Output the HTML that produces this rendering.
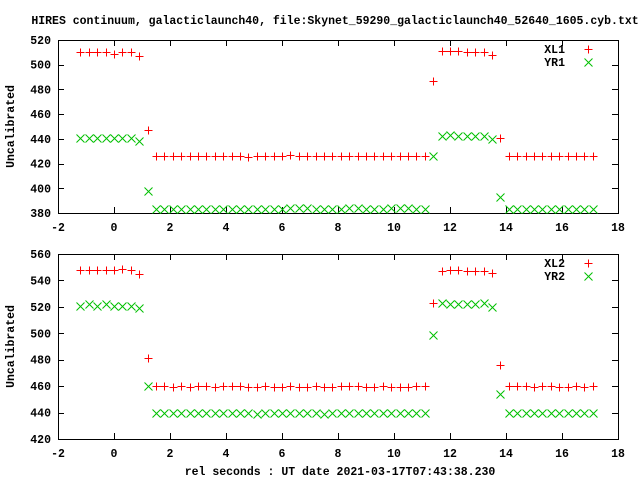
<!DOCTYPE html>
<html><head><meta charset="utf-8"><style>
body{margin:0;background:#fff}
svg{display:block}
text{font-family:"Liberation Mono",monospace;font-weight:bold;font-size:11.5px;fill:#000}
</style></head><body>
<svg id="chart" width="640" height="480" viewBox="0 0 640 480">
<text x="335" y="24" text-anchor="middle">HIRES continuum, galacticlaunch40, file:Skynet_59290_galacticlaunch40_52640_1605.cyb.txt</text>
<text x="340" y="475" text-anchor="middle">rel seconds : UT date 2021-03-17T07:43:38.230</text>
</svg>
<script>
const times=[-1.2,-0.9,-0.6,-0.3,0,0.3,0.6,0.9,1.2,1.5,1.8,2.1,2.4,2.7,3.0,3.3,3.6,3.9,4.2,4.5,4.8,5.1,5.4,5.7,6.0,6.3,6.6,6.9,7.2,7.5,7.8,8.1,8.4,8.7,9.0,9.3,9.6,9.9,10.2,10.5,10.8,11.1,11.4,11.7,12.0,12.3,12.6,12.9,13.2,13.5,13.8,14.1,14.4,14.7,15.0,15.3,15.6,15.9,16.2,16.5,16.8,17.1];
const xl1=[510,510,510,510,509,510,510,507,447,426,426,426,426,426,426,426,426,426,426,426,425,426,426,426,426,427,426,426,426,426,426,426,426,426,426,426,426,426,426,426,426,426,487,511,511,511,510,510,510,508,441,426,426,426,426,426,426,426,426,426,426,426];
const yr1=[441,441,441,441,441,441,441,438,398,383,383,383,383,383,383,383,383,383,383,383,383,383,383,383,383,384,384,384,383,383,383,383,384,384,383,383,383,384,384,384,383,383,426,442,443,442,442,442,442,440,393,383,383,383,383,383,383,383,383,383,383,383];
const xl2=[548,548,548,548,548,549,548,545,481,460,460,459,460,459,460,460,459,460,460,460,459,459,460,459,459,460,459,459,460,459,459,460,460,460,459,459,460,459,459,459,460,460,523,547,548,548,547,547,547,546,476,460,460,460,459,460,460,459,459,460,459,460];
const yr2=[521,522,521,522,521,521,521,519,460,440,440,440,440,440,440,440,440,440,440,440,440,439,440,440,440,440,440,440,440,439,440,440,440,440,440,440,440,440,440,440,440,440,499,523,522,522,522,522,523,520,454,440,440,440,440,440,440,440,440,440,440,440];
const xTicks=[-2,0,2,4,6,8,10,12,14,16,18];
const yTicks1=[380,400,420,440,460,480,500,520];
const yTicks2=[420,440,460,480,500,520,540,560];

const NS="http://www.w3.org/2000/svg";
const svg=document.getElementById('chart');
function mk(tag,attrs,parent){const e=document.createElementNS(NS,tag);for(const k in attrs)e.setAttribute(k,attrs[k]);(parent||svg).appendChild(e);return e;}
const L=58,R=618;
function xs(t){return L+(t-(-2))*(R-L)/20;}

function panel(top,bottom,ymin,ymax,yTicks,sA,sB,nameA,nameB,key){
  const ys=v=>bottom-(v-ymin)*(bottom-top)/(ymax-ymin);
  const g=mk('g',{});
  
  
  const fr=mk('rect',{x:L+0.5,y:top+0.5,width:R-L,height:bottom-top,fill:'none',stroke:'#000','stroke-width':1},g);
  
  
  xTicks.forEach(t=>{
    const x=Math.round(xs(t))+0.5;
    const tk=mk('path',{d:`M${x},${bottom}v-6M${x},${top}v6`,stroke:'#000'},g);
    
    
    const lb=mk('text',{x:xs(t),y:bottom+18,'text-anchor':'middle'},g);
    lb.textContent=t;
    
    
  });
  yTicks.forEach(v=>{
    const y=Math.round(ys(v))+0.5;
    const tk=mk('path',{d:`M${L},${y}h6M${R},${y}h-6`,stroke:'#000'},g);
    
    
    const lb=mk('text',{x:L-7,y:ys(v)+4,'text-anchor':'end'},g);
    lb.textContent=v;
    
    
  });
  const yl=mk('text',{x:0,y:0,'text-anchor':'middle',transform:`translate(14,${(top+bottom)/2}) rotate(-90)`},g);
  yl.textContent='Uncalibrated';
  
  
  const plus=(x,y,p)=>mk('path',{d:`M${x-4},${y}h8M${x},${y-4}v8`,stroke:'#ff0000','stroke-width':1,fill:'none'},p);
  const cross=(x,y,p)=>mk('path',{d:`M${x-4},${y-4}l8,8M${x-4},${y+4}l8,-8`,stroke:'#00c000','stroke-width':1,fill:'none'},p);
  const ga=mk('g',{},g);
  
  
  sA.forEach((v,i)=>{const p=plus(Math.round(xs(times[i]))+0.5,Math.round(ys(v))+0.5,ga);
    
    });
  const gb=mk('g',{},g);
  
  
  sB.forEach((v,i)=>{const p=cross(Math.round(xs(times[i]))+0.5,Math.round(ys(v))+0.5,gb);
    
    });
  const lg=mk('g',{},g);
  
  
  const t1=mk('text',{x:565,y:top+13,'text-anchor':'end'},lg);t1.textContent=nameA;
  
  
  plus(588.5,top+9.5,lg);
  const t2=mk('text',{x:565,y:top+26,'text-anchor':'end'},lg);t2.textContent=nameB;
  
  
  cross(588.5,top+22.5,lg);
}
panel(40,213,380,520,yTicks1,xl1,yr1,'XL1','YR1','top');
panel(254,439,420,560,yTicks2,xl2,yr2,'XL2','YR2','bottom');
</script>
</body></html>
